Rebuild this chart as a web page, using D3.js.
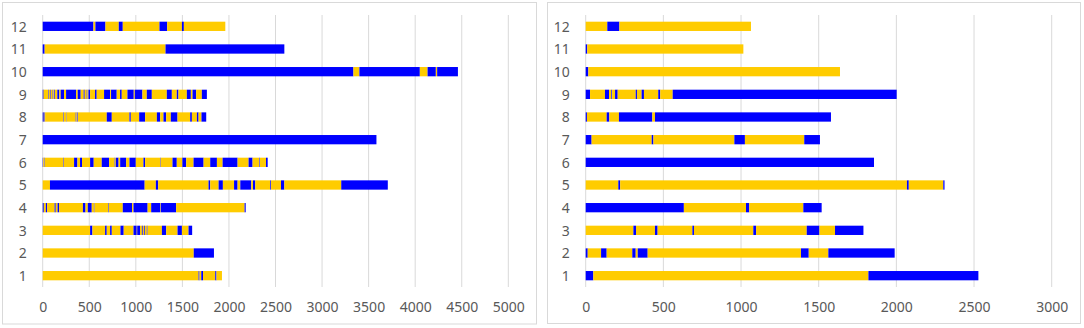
<!DOCTYPE html>
<html>
<head>
<meta charset="utf-8">
<script src="https://cdn.jsdelivr.net/npm/d3@7"></script>
<style>
  html, body { margin: 0; padding: 0; background: #fff; }
  svg text { font-family: "Noto Sans", sans-serif; font-size: 14px; fill: #595959; }
</style>
</head>
<body>
<svg id="chart" width="1084" height="328"></svg>
<script>
// Categories (bottom to top)
const rows = ["1", "2", "3", "4", "5", "6", "7", "8", "9", "10", "11", "12"];

// Tick labels
const leftTicks = [0, 500, 1000, 1500, 2000, 2500, 3000, 3500, 4000, 4500, 5000];
const rightTicks = [0, 500, 1000, 1500, 2000, 2500, 3000];

// Colour of the first segment in each row (B = blue, Y = yellow)
const leftFirst = ["Y", "Y", "Y", "B", "Y", "B", "B", "B", "B", "B", "B", "B"];
const rightFirst = ["B", "B", "Y", "B", "Y", "B", "B", "B", "B", "B", "B", "Y"];

// Cumulative end of each segment, colours alternate from the first one
const leftEnds = [
  [1674, 1684, 1703, 1722, 1853, 1866, 1925],
  [1622, 1839],
  [509, 534, 670, 688, 724, 742, 835, 870, 975, 1010, 1015, 1045, 1065, 1075, 1090, 1098, 1118, 1126, 1280, 1326, 1448, 1495, 1566, 1605],
  [12, 34, 48, 128, 140, 160, 176, 432, 460, 484, 527, 550, 556, 704, 710, 860, 960, 975, 1127, 1165, 1262, 1268, 1433, 2168, 2180],
  [78, 1095, 1215, 1240, 1781, 1799, 1889, 1935, 2055, 2093, 2122, 2240, 2258, 2283, 2444, 2452, 2559, 2595, 3206, 3706],
  [6, 14, 20, 220, 226, 337, 373, 401, 422, 509, 548, 634, 713, 767, 772, 785, 815, 832, 896, 932, 1000, 1082, 1100, 1260, 1266, 1394, 1440, 1500, 1541, 1620, 1728, 1799, 1871, 1932, 2093, 2211, 2254, 2326, 2332, 2398, 2416],
  [3584],
  [12, 20, 26, 220, 226, 250, 255, 355, 362, 372, 378, 688, 742, 932, 946, 1036, 1100, 1226, 1262, 1297, 1326, 1376, 1448, 1584, 1602, 1656, 1674, 1705, 1756],
  [10, 57, 64, 78, 86, 107, 114, 125, 132, 157, 179, 193, 229, 251, 358, 376, 408, 440, 451, 473, 480, 491, 509, 562, 580, 659, 724, 734, 795, 831, 849, 910, 978, 989, 1071, 1118, 1172, 1333, 1387, 1440, 1458, 1548, 1591, 1609, 1648, 1709, 1763],
  [3337, 3401, 4050, 4133, 4222, 4236, 4459],
  [21, 1319, 2595],
  [545, 566, 674, 817, 860, 1254, 1337, 1495, 1516, 1961]
];

const rightEnds = [
  [49, 1820, 2528],
  [13, 99, 135, 300, 322, 335, 399, 1386, 1436, 1562, 1989],
  [307, 324, 446, 463, 687, 697, 1079, 1097, 1423, 1505, 1605, 1788],
  [632, 1032, 1053, 1401, 1519],
  [210, 222, 2068, 2080, 2302, 2310],
  [1856],
  [38, 425, 436, 957, 1025, 1407, 1508],
  [8, 135, 152, 214, 429, 446, 1579],
  [28, 124, 150, 165, 170, 189, 206, 322, 330, 360, 375, 467, 480, 560, 2002],
  [17, 1637],
  [10, 1015],
  [139, 217, 1064]
];

const colors = { B: "#0000ff", Y: "#ffcc00" };

const svg = d3.select("#chart");

function drawPanel(opt) {
  const g = svg.append("g");

  // Marc del gràfic
  g.append("rect")
    .attr("x", opt.box[0]).attr("y", opt.box[1])
    .attr("width", opt.box[2]).attr("height", opt.box[3])
    .attr("fill", "#fff")
    .attr("stroke", "#d9d9d9")
    .attr("stroke-width", 1);

  const x = d3.scaleLinear()
    .domain([0, opt.ticks[opt.ticks.length - 1]])
    .range([opt.x0, opt.x1]);

  const y = d3.scaleBand()
    .domain(rows)
    .range([287, 15])
    .paddingInner(0.59)
    .paddingOuter(0.295);

  // Línies de graella
  g.selectAll("line.grid")
    .data(opt.ticks)
    .join("line")
    .attr("class", "grid")
    .attr("x1", d => x(d)).attr("x2", d => x(d))
    .attr("y1", 15).attr("y2", 287)
    .attr("stroke", "#d9d9d9")
    .attr("stroke-width", 1);

  // Segments de cada fila
  const segs = [];
  opt.ends.forEach((ends, i) => {
    let start = 0;
    let c = opt.first[i];
    ends.forEach(e => {
      segs.push({ row: rows[i], from: start, to: e, c });
      start = e;
      c = c === "B" ? "Y" : "B";
    });
  });

  g.selectAll("rect.seg")
    .data(segs)
    .join("rect")
    .attr("class", "seg")
    .attr("x", d => x(d.from))
    .attr("width", d => Math.max(0, x(d.to) - x(d.from)))
    .attr("y", d => y(d.row))
    .attr("height", y.bandwidth())
    .attr("fill", d => colors[d.c]);

  // Eix X
  const ax = g.append("g")
    .attr("transform", `translate(0,287)`)
    .call(d3.axisBottom(x).tickValues(opt.ticks).tickFormat(d3.format("d")).tickSize(0).tickPadding(15));
  ax.select(".domain").remove();
  ax.attr("font-size", null).attr("font-family", null);

  // Eix Y
  const ay = g.append("g")
    .attr("transform", `translate(${opt.x0},0)`)
    .call(d3.axisLeft(y).tickSize(0).tickPadding(16));
  ay.select(".domain").remove();
  ay.attr("font-size", null).attr("font-family", null);
  ay.selectAll("text").attr("dy", "0.38em");
}

drawPanel({ box: [2.5, 2.5, 534, 321.5], x0: 42.7, x1: 508.3, ticks: leftTicks, ends: leftEnds, first: leftFirst });
drawPanel({ box: [547.5, 2.5, 533, 321], x0: 585.7, x1: 1051.7, ticks: rightTicks, ends: rightEnds, first: rightFirst });
</script>
</body>
</html>
